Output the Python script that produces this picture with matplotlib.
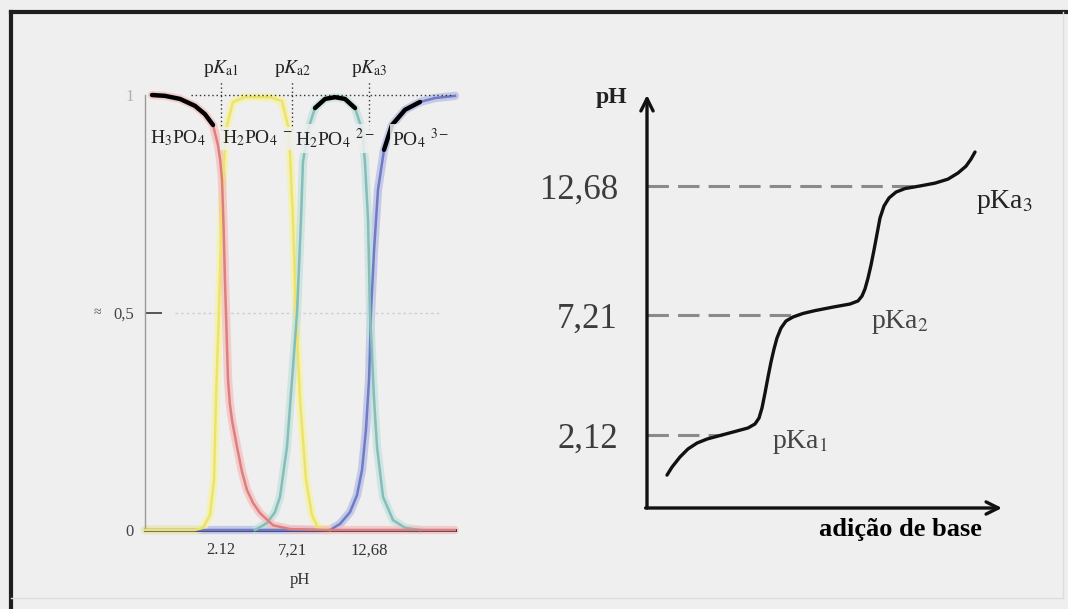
import numpy as np
import matplotlib.pyplot as plt
from matplotlib.lines import Line2D

plt.rcParams['font.family'] = 'Liberation Serif'
plt.rcParams['mathtext.fontset'] = 'stix'

BG = '#efefef'

# species fractions vs pH (phosphoric acid)
ph_h3po4 = [-2.82, -1.89, -0.82, 0.25, 0.96, 1.54, 1.89, 2.05, 2.18, 2.30, 2.39, 2.50, 2.61,
            2.74, 2.89, 3.25, 3.60, 3.96, 4.40, 4.89, 5.82, 7.04, 9.9, 18.8]
frac_h3po4 = [1.0, 0.998, 0.991, 0.975, 0.956, 0.931, 0.885, 0.85, 0.805, 0.69, 0.575, 0.46, 0.345,
              0.29, 0.253, 0.191, 0.135, 0.092, 0.062, 0.039, 0.011, 0.002, 0.0, 0.0]

ph_h2po4 = [-3.3, 0.25, 0.82, 1.32, 1.61, 1.75, 1.96, 2.18, 2.46, 2.96, 3.82, 5.61,
            6.46, 6.96, 7.25, 7.46, 7.75, 8.18, 8.61, 9.04, 9.9]
frac_h2po4 = [0.0, 0.0, 0.005, 0.034, 0.115, 0.30, 0.50, 0.76, 0.92, 0.984, 0.995, 0.995,
              0.986, 0.92, 0.713, 0.50, 0.30, 0.115, 0.034, 0.005, 0.0]

ph_hpo4 = [4.54, 5.39, 5.96, 6.32, 6.82, 7.18, 7.54, 7.82, 7.96, 8.32, 8.82, 9.54, 10.25,
           10.96, 11.68, 12.18, 12.39, 12.61, 12.75, 13.04, 13.25, 13.68, 14.39, 15.25, 16.32]
frac_hpo4 = [0.0, 0.016, 0.041, 0.076, 0.191, 0.345, 0.50, 0.713, 0.846, 0.92, 0.970, 0.991, 0.995,
             0.991, 0.970, 0.92, 0.846, 0.713, 0.50, 0.30, 0.191, 0.076, 0.023, 0.005, 0.0]

ph_po4 = [-3.3, 9.89, 10.61, 11.32, 11.82, 12.18, 12.46, 12.68, 12.82, 13.04, 13.32,
          13.75, 14.32, 15.25, 16.32, 17.39, 18.82]
frac_po4 = [0.0, 0.0, 0.014, 0.041, 0.080, 0.138, 0.23, 0.345, 0.50, 0.644, 0.782,
            0.874, 0.931, 0.966, 0.984, 0.993, 0.998]

pka_values = [2.12, 7.21, 12.68]
pka_ticks_left = ['2.12', '7,21', '12,68']
pka_ticks_right = ['2,12', '7,21', '12,68']

# titration curve: pH vs added base
base_added = [0.20, 0.25, 0.33, 0.41, 0.50, 0.60, 0.73, 0.88, 1.01, 1.08, 1.12, 1.15, 1.18,
              1.21, 1.24, 1.27, 1.30, 1.34, 1.39, 1.46, 1.56, 1.68, 1.86, 2.03, 2.11, 2.15,
              2.18, 2.21, 2.24, 2.27, 2.30, 2.33, 2.37, 2.42, 2.49, 2.58, 2.73, 2.88, 3.01,
              3.11, 3.19, 3.24, 3.28]
ph_titration = [0.42, 0.76, 1.19, 1.53, 1.78, 1.95, 2.10, 2.27, 2.42, 2.59, 2.84, 3.27, 3.90,
                4.58, 5.22, 5.77, 6.24, 6.66, 6.96, 7.13, 7.28, 7.40, 7.55, 7.68, 7.81, 8.02,
                8.32, 8.78, 9.33, 9.97, 10.65, 11.33, 11.84, 12.18, 12.43, 12.58, 12.69, 12.81,
                12.98, 13.24, 13.53, 13.83, 14.13]

W, H = 1068, 609
fig = plt.figure(figsize=(W / 100, H / 100), dpi=100, facecolor=BG)

# frame around both panels
fig.add_artist(Line2D([11 / W, 11 / W], [0, (H - 12) / H], color='#1e1e1e', lw=3))
fig.add_artist(Line2D([11 / W, 1], [(H - 12) / H, (H - 12) / H], color='#1e1e1e', lw=3))
fig.add_artist(Line2D([1063 / W, 1063 / W], [(H - 598) / H, (H - 12) / H], color='#dcdcdc', lw=1))
fig.add_artist(Line2D([11 / W, 1063 / W], [(H - 598) / H, (H - 598) / H], color='#dcdcdc', lw=1))

# ---- left: distribution diagram ----
ax1 = fig.add_axes([145 / W, (H - 530) / H, 310 / W, 435 / H])
ax1.set_facecolor('none')
ax1.set_xlim(-3.32, 18.82)
ax1.set_ylim(0, 1)


def species(x, y, core, halo, black_range=None):
    x = np.asarray(x)
    y = np.asarray(y)
    ax1.plot(x, y, color=halo, lw=6, alpha=0.75, clip_on=False, zorder=2,
             solid_capstyle='round', solid_joinstyle='round')
    ax1.plot(x, y, color=core, lw=1.8, clip_on=False, zorder=3, solid_joinstyle='round')
    if black_range is not None:
        m = (x >= black_range[0]) & (x <= black_range[1])
        ax1.plot(x[m], y[m], color='black', lw=3.2, clip_on=False, zorder=6,
                 solid_capstyle='round', solid_joinstyle='round')


species(ph_po4, frac_po4, '#6f7bc4', '#b8bde6', (13.7, 17.2))
species(ph_h2po4, frac_h2po4, '#ece46a', '#f7f3a6')
species(ph_hpo4, frac_hpo4, '#86bdb8', '#c3e2de', (8.6, 11.9))
species(ph_h3po4, frac_h3po4, '#de7f7f', '#f5c0c0', (-3, 1.56))

ax1.hlines(1.0, 0.0, 18.6, color='#333333', lw=1, linestyles=(0, (1, 2)), zorder=5, clip_on=False)
ax1.vlines(pka_values, 0.92, 1.035, color='#333333', lw=1, linestyles=(0, (1, 2)), zorder=5,
           clip_on=False)
ax1.hlines(0.5, -1.2, 17.7, color='#d0d0d0', lw=1, linestyles=(0, (2, 2)), zorder=1)

for v, lab in zip(pka_values, ['1', '2', '3']):
    ax1.text(v, 1.06, r'p$K_{\rm a' + lab + '}$', ha='center', va='center',
             fontsize=14, color='#222222', clip_on=False)

lab_box = dict(boxstyle='square,pad=0.1', fc=BG, ec='none', alpha=0.85)
ax1.text(-0.96, 0.9, r'H$_3$PO$_4$', ha='center', va='center', fontsize=14,
         color='#222222', bbox=lab_box, zorder=7)
ax1.text(4.68, 0.9, r'H$_2$PO$_4$ $^{-}$', ha='center', va='center', fontsize=14,
         color='#222222', bbox=lab_box, zorder=7)
ax1.text(10.25, 0.9, r'H$_2$PO$_4$ $^{2-}$', ha='center', va='center', fontsize=14,
         color='#222222', bbox=lab_box, zorder=7)
ax1.text(16.4, 0.9, r'PO$_4$ $^{3-}$', ha='center', va='center', fontsize=14,
         color='#222222', bbox=lab_box, zorder=7)

for s in ['top', 'right']:
    ax1.spines[s].set_visible(False)
ax1.spines['left'].set_color('#9a9a9a')
ax1.spines['left'].set_linewidth(1)
ax1.spines['bottom'].set_color('#3f3f5c')
ax1.spines['bottom'].set_linewidth(2.2)

ax1.set_xticks(pka_values, pka_ticks_left)
ax1.tick_params(axis='x', length=0, pad=9, labelsize=12, labelcolor='#333333')
ax1.set_yticks([0, 0.5, 1], ['0', '0,5', '1'])
ax1.tick_params(axis='y', direction='in', length=12, width=1.4, color='#555555', pad=8,
                labelsize=12, labelcolor='#444444')
yt = ax1.yaxis.get_major_ticks()
yt[0].tick1line.set_visible(False)
yt[2].tick1line.set_visible(False)
yt[2].label1.set_color('#b0b0b0')
ax1.set_xlabel('pH', fontsize=12, color='#333333', labelpad=10)
ax1.text(-0.155, 0.5, '≈', transform=ax1.transAxes, ha='center', va='center',
         fontsize=10, color='#555555')

# ---- right: titration curve ----
ax2 = fig.add_axes([647 / W, (H - 508) / H, 355 / W, 413 / H])
ax2.set_facecolor('none')
ax2.set_xlim(0, 3.55)
ax2.set_ylim(-0.976, 16.55)
for s in ax2.spines.values():
    s.set_visible(False)

arrow = dict(arrowstyle='->', lw=2.4, color='#111111', mutation_scale=22,
             shrinkA=0, shrinkB=0)
ax2.annotate('', xy=(0, 1), xytext=(0, 0), xycoords='axes fraction', arrowprops=arrow)
ax2.annotate('', xy=(1, 0), xytext=(-0.004, 0), xycoords='axes fraction', arrowprops=arrow)

for v in pka_values:
    xe = np.interp(v, ph_titration, base_added)
    ax2.plot([0, xe], [v, v], color='#8a8a8a', lw=2.2, dashes=(7, 3))

ax2.plot(base_added, ph_titration, color='#111111', lw=2.4, solid_capstyle='round',
         solid_joinstyle='round')

ax2.text(1.53, 1.82, r'pKa$_1$', ha='center', va='center', fontsize=20, color='#444444')
ax2.text(2.53, 6.92, r'pKa$_2$', ha='center', va='center', fontsize=20, color='#444444')
ax2.text(3.58, 12.0, r'pKa$_3$', ha='center', va='center', fontsize=20, color='#222222',
         clip_on=False)

ax2.set_xticks([])
ax2.set_yticks(pka_values, pka_ticks_right)
ax2.tick_params(axis='y', length=0, pad=21, labelsize=25, labelcolor='#3c3c3c')

ax2.text(-0.099, 0.993, 'pH', transform=ax2.transAxes, ha='center', va='center',
         fontsize=17, fontweight='bold', color='#222222')
ax2.text(0.713, -0.053, 'adição de base', transform=ax2.transAxes, ha='center',
         va='center', fontsize=19, fontweight='bold', color='black')

fig.savefig('out.png', dpi=100, facecolor=BG)
